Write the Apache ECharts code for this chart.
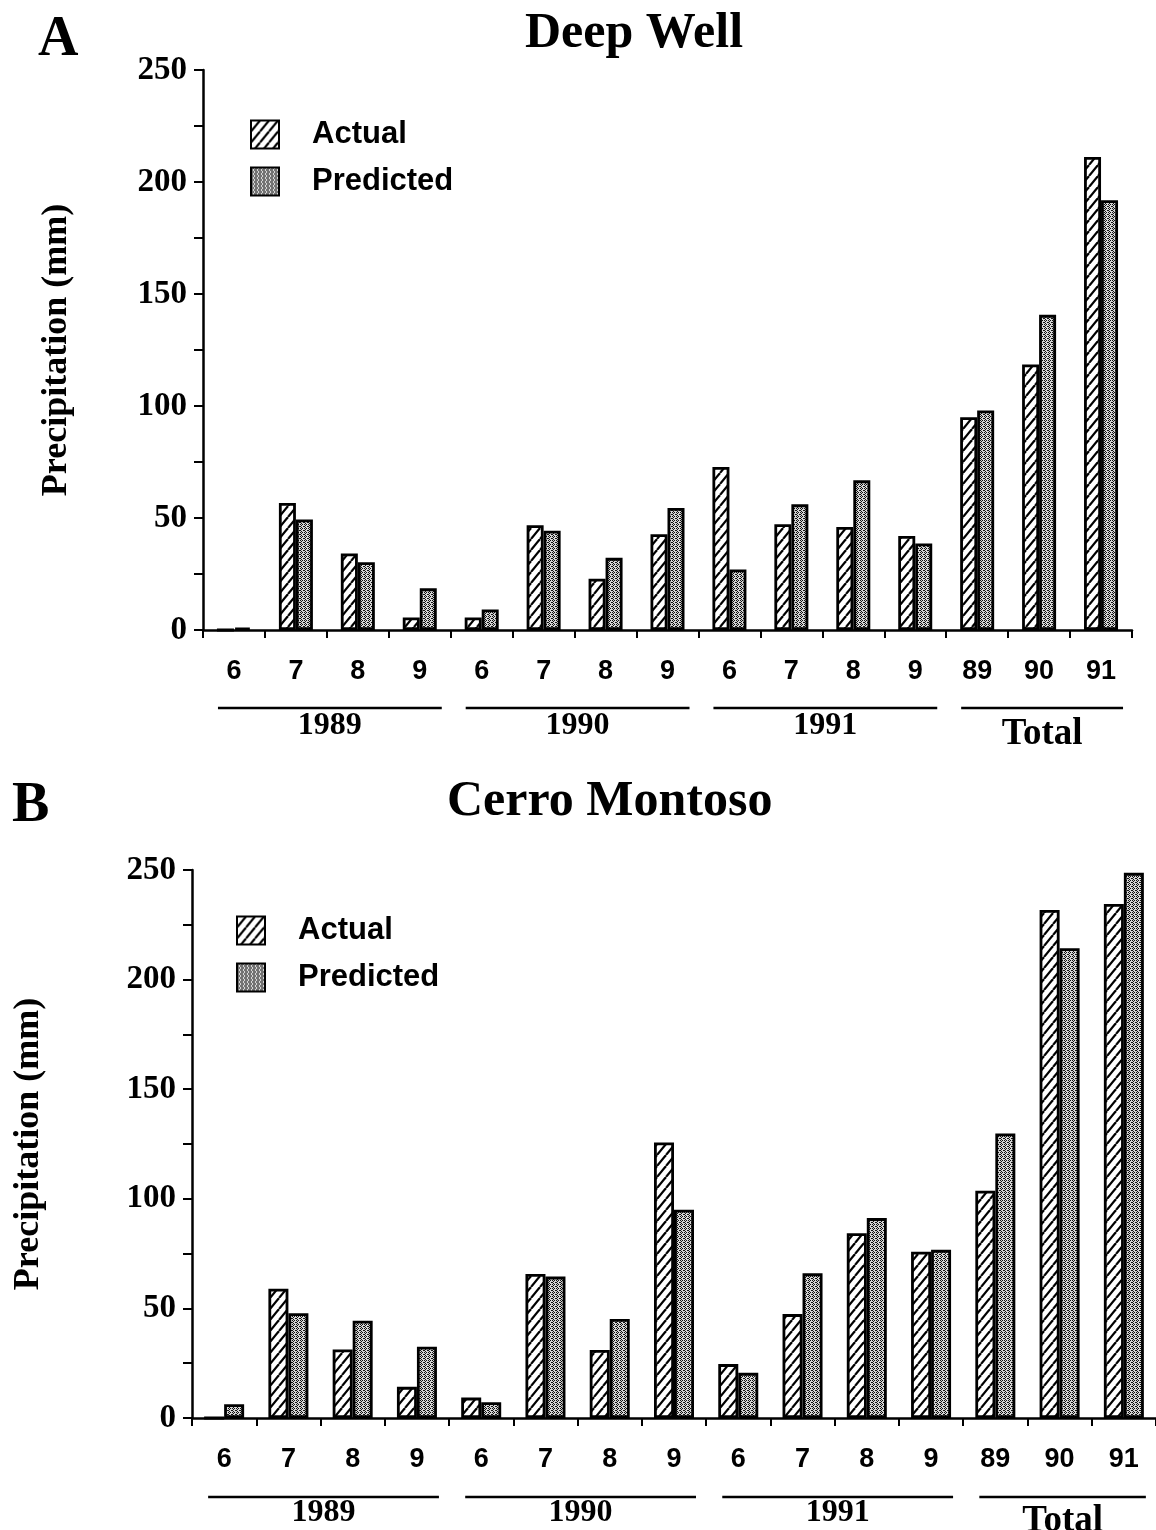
<!DOCTYPE html>
<html>
<head>
<meta charset="utf-8">
<script src="https://cdn.jsdelivr.net/npm/echarts@6/dist/echarts.min.js"></script>
<style>
  html, body { margin: 0; padding: 0; background: #fff; }
  #chart { width: 1156px; height: 1530px; }
</style>
</head>
<body>
<div id="chart"></div>
<script>
// month labels along the x axis (the last three are yearly totals)
const months = ['6', '7', '8', '9', '6', '7', '8', '9', '6', '7', '8', '9', '89', '90', '91'];
const groups = ['1989', '1990', '1991', 'Total'];
const groupSpans = [[0, 3], [4, 7], [8, 11], [12, 14]];
const yTicks = [0, 50, 100, 150, 200, 250];

// A: Deep Well
const deepActual = [0, 56.7, 34.2, 5.6, 5.6, 46.8, 22.9, 42.8, 72.8, 47.2, 46, 42, 95, 118.5, 211.2];
const deepPredicted = [1, 49.3, 30.3, 18.6, 9.2, 44.3, 32.2, 54.5, 27, 56.1, 66.8, 38.6, 98, 140.7, 191.9];

// B: Cerro Montoso
const cerroActual = [0, 59, 31.3, 14.2, 9.3, 65.7, 31, 125.7, 24.6, 47.4, 84.3, 75.9, 103.7, 231.8, 234.5];
const cerroPredicted = [6.3, 47.8, 44.4, 32.5, 7.2, 64.5, 45.2, 95, 20.6, 66, 91.2, 76.7, 129.8, 214.3, 248.7];

const SERIF = '"Liberation Serif", "Times New Roman", serif';
const SANS = '"Liberation Sans", Arial, Helvetica, sans-serif';

// diagonal hatch for "Actual"
function hatchPattern() {
  const w = 9, h = 11;
  const c = document.createElement('canvas');
  c.width = w; c.height = h;
  const g = c.getContext('2d');
  g.fillStyle = '#fff';
  g.fillRect(0, 0, w, h);
  g.strokeStyle = '#000';
  g.lineWidth = 2.2;
  [-w, 0, w].forEach(dx => {
    g.beginPath();
    g.moveTo(dx, h);
    g.lineTo(dx + w, 0);
    g.stroke();
  });
  return c;
}

// grey stipple for "Predicted"
function stipplePattern() {
  const c = document.createElement('canvas');
  c.width = 4; c.height = 4;
  const g = c.getContext('2d');
  g.fillStyle = '#d6d6d6';
  g.fillRect(0, 0, 4, 4);
  g.fillStyle = '#111';
  [[0, 0], [2, 0], [1, 1], [3, 2], [0, 2], [1, 3]].forEach(p => g.fillRect(p[0], p[1], 1, 1));
  return c;
}

const hatch = { image: hatchPattern(), repeat: 'repeat' };
const stipple = { image: stipplePattern(), repeat: 'repeat' };

function bars(name, data, fill, idx, width) {
  return {
    name: name,
    type: 'bar',
    xAxisIndex: idx,
    yAxisIndex: idx,
    data: data,
    barWidth: width,
    barGap: '0%',
    itemStyle: { color: fill, borderColor: '#000', borderWidth: 2.8 },
    emphasis: { disabled: true }
  };
}

function xAxis(idx) {
  return {
    type: 'category',
    gridIndex: idx,
    data: months,
    axisLine: { lineStyle: { color: '#000', width: 2.5 } },
    axisTick: { show: true, length: 8, lineStyle: { color: '#000', width: 2 } },
    axisLabel: { color: '#000', fontFamily: SANS, fontWeight: 'bold', fontSize: 27, margin: 28, interval: 0 },
    splitLine: { show: false }
  };
}

function yAxis(idx, gap) {
  return {
    type: 'value',
    gridIndex: idx,
    min: 0,
    max: 250,
    interval: 25,
    name: 'Precipitation (mm)',
    nameLocation: 'middle',
    nameRotate: 90,
    nameGap: gap,
    nameTextStyle: { color: '#000', fontFamily: SERIF, fontWeight: 'bold', fontSize: 36 },
    axisLine: { show: true, lineStyle: { color: '#000', width: 2.5 } },
    axisTick: { show: true, length: 9, lineStyle: { color: '#000', width: 2 } },
    axisLabel: {
      color: '#000', fontFamily: SERIF, fontWeight: 'bold', fontSize: 33, margin: 16,
      formatter: v => (yTicks.indexOf(v) >= 0 ? String(v) : '')
    },
    splitLine: { show: false }
  };
}

function legend(left, top) {
  return {
    orient: 'vertical',
    left: left,
    top: top,
    padding: 0,
    icon: 'rect',
    itemWidth: 28,
    itemHeight: 28,
    itemGap: 16,
    selectedMode: false,
    data: ['Actual', 'Predicted'],
    textStyle: { color: '#000', fontFamily: SANS, fontWeight: 'bold', fontSize: 31, padding: [0, 0, 0, 28] }
  };
}

const chart = echarts.init(document.getElementById('chart'));

chart.setOption({
  animation: false,
  backgroundColor: '#fff',
  title: [
    { text: 'A', left: 38, top: 13, padding: 0, textStyle: { fontFamily: SERIF, fontWeight: 'bold', fontSize: 56, color: '#000' } },
    { text: 'Deep Well', left: 525, top: 9, padding: 0, textStyle: { fontFamily: SERIF, fontWeight: 'bold', fontSize: 50, color: '#000' } },
    { text: 'B', left: 12, top: 779, padding: 0, textStyle: { fontFamily: SERIF, fontWeight: 'bold', fontSize: 56, color: '#000' } },
    { text: 'Cerro Montoso', left: 447, top: 777, padding: 0, textStyle: { fontFamily: SERIF, fontWeight: 'bold', fontSize: 50, color: '#000' } }
  ],
  legend: [legend(250, 119), legend(236, 915)],
  grid: [
    { left: 203, top: 70, width: 929, height: 560 },
    { left: 192, top: 870, width: 964, height: 548 }
  ],
  xAxis: [xAxis(0), xAxis(1)],
  yAxis: [yAxis(0, 128), yAxis(1, 145)],
  series: [
    bars('Actual', deepActual, hatch, 0, 17),
    bars('Predicted', deepPredicted, stipple, 0, 17),
    bars('Actual', cerroActual, hatch, 1, 20),
    bars('Predicted', cerroPredicted, stipple, 1, 20)
  ]
});

// year group underlines and labels below the month labels
function groupMarks(idx, lineDy, textDy) {
  const y0 = chart.convertToPixel({ yAxisIndex: idx }, 0);
  const out = [];
  groupSpans.forEach((span, k) => {
    const a = chart.convertToPixel({ xAxisIndex: idx }, span[0]) - 16;
    const b = chart.convertToPixel({ xAxisIndex: idx }, span[1]) + 22;
    const isTotal = groups[k] === 'Total';
    out.push({
      type: 'line',
      shape: { x1: a, y1: y0 + lineDy, x2: b, y2: y0 + lineDy },
      style: { stroke: '#000', lineWidth: 2.5 }
    });
    out.push({
      type: 'text',
      x: (a + b) / 2,
      y: y0 + textDy + (isTotal ? 8 : 0),
      style: {
        text: groups[k],
        fill: '#000',
        fontFamily: SERIF,
        fontWeight: 'bold',
        fontSize: isTotal ? 37 : 32,
        align: 'center',
        verticalAlign: 'middle'
      }
    });
  });
  return out;
}

chart.setOption({
  graphic: groupMarks(0, 78, 96).concat(groupMarks(1, 79, 95))
});
</script>
</body>
</html>
